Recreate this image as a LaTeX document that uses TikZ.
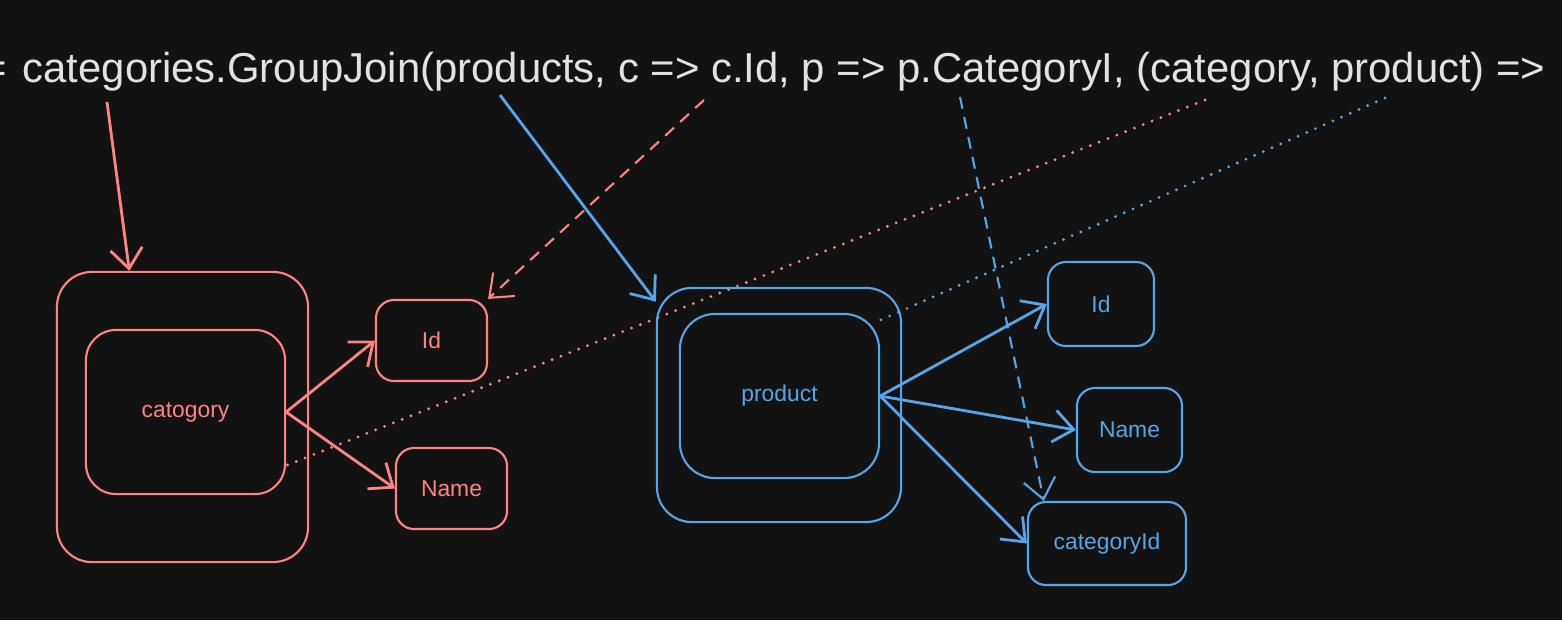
\documentclass[tikz,border=0pt]{standalone}
\usepackage{fontspec}
\setmainfont{Liberation Sans}
\usetikzlibrary{arrows.meta, positioning}
\usepackage{xcolor}
\definecolor{bgdark}{HTML}{121212}
\definecolor{salmon}{HTML}{FF8383}
\definecolor{skyblue}{HTML}{56A5E8}
\definecolor{chalk}{HTML}{E2E2E2}

\begin{document}
\begin{tikzpicture}[x=0.01cm, y=-0.01cm,
    box/.style={draw, line width=0.6pt, inner sep=0pt, font=\fontsize{6.5}{8}\selectfont},
    link/.style={line width=0.8pt, -{Straight Barb[length=2mm, width=3.2mm]}},
    dashlink/.style={line width=0.6pt, dash pattern=on 3.4pt off 2.4pt, -{Straight Barb[length=2mm, width=3.2mm]}},
    dotlink/.style={line width=0.9pt, line cap=round, dash pattern=on 0pt off 2.7pt}]
    % Background and frame
    \fill[bgdark] (0,0) rectangle (1562,620);
    \useasboundingbox (0,0) rectangle (1562,620);

    % The query line
    \node[anchor=base west, text=chalk, font=\fontsize{11.9}{14}\selectfont, inner sep=0pt] (query) at (22,82)
        {\llap{=\hspace{4.5pt}}categories.GroupJoin(products, c => c.Id, p => p.CategoryI, (category, product) =>};
    \coordinate (qcat) at (107,102);
    \coordinate (qprod) at (500,95);
    \coordinate (qcid) at (704,100);
    \coordinate (qpcid) at (960,97);
    \coordinate (qcatres) at (1205,100);
    \coordinate (qprodres) at (1385,98);

    % Category side
    \begin{scope}[salmon]
    \node[box, rounded corners=0.35cm, minimum width=2.51cm, minimum height=2.9cm] (catout) at (182.5,417) {};
    \node[box, rounded corners=0.3cm, minimum width=1.99cm, minimum height=1.64cm] (catin) at (185.5,412) {catogory};
    \node[box, rounded corners=0.18cm, minimum width=1.11cm, minimum height=0.81cm] (cid) at (431.5,340.5) {Id};
    \node[box, rounded corners=0.18cm, minimum width=1.11cm, minimum height=0.81cm] (cname) at (451.5,488.5) {Name};

    \draw[link] (catin.east) -- (cid.west);
    \draw[link] (catin.east) -- (cname.west);
    \draw[link] (qcat) -- (catout.110);
    \draw[dashlink] (qcid) -- (cid.north east);
    \draw[dotlink] (qcatres) -- (catin.-28);
    \end{scope}

    % Product side
    \begin{scope}[skyblue]
    \node[box, rounded corners=0.35cm, minimum width=2.44cm, minimum height=2.34cm] (pout) at (779,405) {};
    \node[box, rounded corners=0.35cm, minimum width=1.99cm, minimum height=1.64cm] (pin) at (779.5,396) {product};
    \node[box, rounded corners=0.18cm, minimum width=1.06cm, minimum height=0.84cm] (pid) at (1101,304) {Id};
    \node[box, rounded corners=0.18cm, minimum width=1.05cm, minimum height=0.84cm] (pname) at (1129.5,430) {Name};
    \node[box, rounded corners=0.18cm, minimum width=1.58cm, minimum height=0.83cm] (pcid) at (1107,543.5) {categoryId};

    \draw[link] (pin.east) -- (pid.west);
    \draw[link] (pin.east) -- (pname.west);
    \draw[link] (pin.east) -- (pcid.west);
    \draw[link] (qprod) -- (pout.140);
    \draw[dashlink] (qpcid) -- (pcid.146);
    \draw[dotlink] (qprodres) -- (pin.37);
    \end{scope}
\end{tikzpicture}
\end{document}
